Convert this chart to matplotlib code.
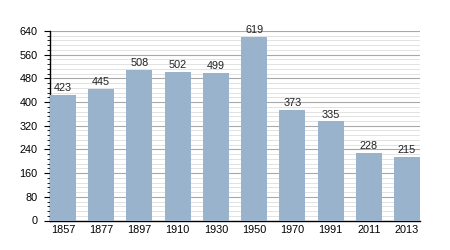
import numpy as np
import matplotlib
matplotlib.use("Agg")
import matplotlib.pyplot as plt
from matplotlib.ticker import MultipleLocator

# population by census year
years = ["1857", "1877", "1897", "1910", "1930", "1950", "1970", "1991", "2011", "2013"]
population = [423, 445, 508, 502, 499, 619, 373, 335, 228, 215]
yticks = [0, 80, 160, 240, 320, 400, 480, 560, 640]

plt.rcParams['font.family'] = ['Liberation Sans', 'DejaVu Sans']

fig = plt.figure(figsize=(4.5, 2.5), dpi=100)
ax = fig.add_axes([50 / 450, 1 - 220.5 / 250, 370 / 450, 189.5 / 250])

x = np.arange(len(years))
ax.bar(x, population, width=0.68, color="#9ab3cd", zorder=3)
for xi, v in zip(x, population):
    ax.text(xi, v + 6, str(v), ha="center", va="bottom", fontsize=7.8, color="#222222", zorder=4)

ax.set_xlim(-0.34, len(years) - 0.66)
ax.set_ylim(0, 640)
ax.set_yticks(yticks)
ax.yaxis.set_minor_locator(MultipleLocator(16))
ax.set_xticks(x)
ax.set_xticklabels(years)

ax.grid(axis="y", which="major", color="#a8a8a8", linewidth=0.8, zorder=1)
ax.grid(axis="y", which="minor", color="#e2e2e2", linewidth=0.7, zorder=0)

for s in ["top", "right"]:
    ax.spines[s].set_visible(False)
ax.spines["left"].set_linewidth(1.0)
ax.spines["bottom"].set_linewidth(1.0)
ax.tick_params(axis="y", which="major", length=4, width=0.8, labelsize=7.8, pad=5)
ax.tick_params(axis="y", which="minor", length=2, width=0.6)
ax.tick_params(axis="x", length=0, labelsize=7.8, pad=3)

fig.savefig("out.png", dpi=100)
